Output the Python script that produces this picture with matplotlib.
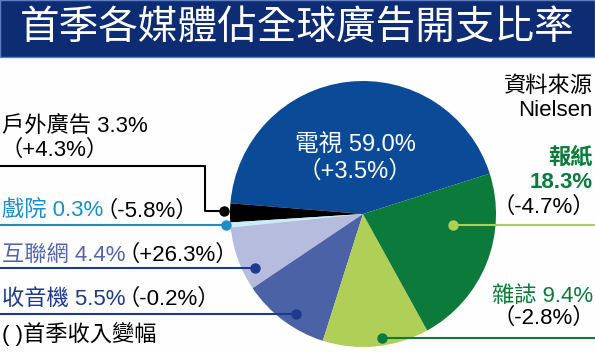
# Share of global ad spending by medium, first quarter (pie with callouts)
import numpy as np
import matplotlib.pyplot as plt

WIDTH, HEIGHT = 595, 352

TITLE = "首季各媒體佔全球廣告開支比率"
SOURCE = ["資料來源", "Nielsen"]
NOTE = "( )首季收入變幅"

# order follows the pie, starting at the TV wedge and going anticlockwise
media = ["電視", "戶外廣告", "戲院", "互聯網", "收音機", "雜誌", "報紙"]
share = [59.0, 3.3, 0.3, 4.4, 5.5, 9.4, 18.3]
change = [3.5, 4.3, -5.8, 26.3, -0.2, -2.8, -4.7]
# wedge sizes as they are drawn in the source graphic (not to scale)
drawn_share = [43.8, 2.3, 0.6, 7.8, 10.7, 12.9, 21.9]
colors = ["#0b4a97", "#000000", "#c8ecf8", "#b6bcdd", "#4c62a6",
          "#afcf57", "#0b7a3a"]

NAVY = "#0d2c73"
GREEN = "#0b7a3a"
FS = 16


def main():
    plt.rcParams["font.family"] = ["Liberation Sans", "Noto Sans CJK TC"]
    fig = plt.figure(figsize=(WIDTH / 100, HEIGHT / 100), dpi=100)
    fig.patch.set_facecolor("#fdfefd")
    ax = fig.add_axes([0, 0, 1, 1])

    wedges = draw_pie(ax)

    ax.set_xlim(0, WIDTH)
    ax.set_ylim(HEIGHT, 0)
    ax.set_aspect("auto")
    ax.axis("off")

    draw_title(ax)
    draw_callouts(ax, wedges)

    fig.savefig("out.png", dpi=100, facecolor=fig.get_facecolor())


def draw_pie(ax):
    # y axis points down, so counterclock=False turns anticlockwise on screen
    wedges, _ = ax.pie(drawn_share, colors=colors, startangle=-17.7,
                       counterclock=False, center=(363, 214), radius=133,
                       wedgeprops=dict(linewidth=0))
    return wedges


def anchor(wedge, frac, rfrac):
    a = np.radians(wedge.theta2 - frac * (wedge.theta2 - wedge.theta1))
    cx, cy = wedge.center
    r = wedge.r * rfrac
    return cx + r * np.cos(a), cy + r * np.sin(a)


def label_parts(i):
    return f"{media[i]} {share[i]:.1f}%", f"（{change[i]:+.1f}%）"


def draw_title(ax):
    ax.add_patch(plt.Rectangle((0, 0), WIDTH, 57, facecolor=NAVY,
                               edgecolor="#5d7fc0", linewidth=1, zorder=1))
    ax.text(WIDTH / 2, 29, TITLE, color="white", fontsize=28.5,
            family="Noto Sans CJK TC", ha="center", va="center", zorder=2)


def dot(ax, x, y, color):
    ax.plot(x, y, "o", ms=6.5, color=color, zorder=5)


def draw_callouts(ax, wedges):
    # TV label inside the wedge
    name, chg = label_parts(0)
    ax.text(355, 146, name, color="white", fontsize=17, ha="center", va="center")
    ax.text(355, 172, chg, color="white", fontsize=17, ha="center", va="center")

    # outdoor: elbow line
    name, chg = label_parts(1)
    x, y = anchor(wedges[1], 0.39, 1.045)
    ax.plot([0, 205, 205, x], [166, 166, y, y], color="black", lw=1.5, zorder=4)
    dot(ax, x, y, "black")
    ax.text(2, 127, name, color="black", fontsize=FS, va="center")
    ax.text(0, 150, chg, color="black", fontsize=FS, va="center")

    # cinema, internet, radio: straight lines to the left edge
    left = [(2, "#1b8dc8", "#1b8dc8", 211, 0.5, 1.03),
            (3, "#5565ad", "#1d3a8e", 255, 0.73, 0.91),
            (4, "#1d3a8e", "#1d3a8e", 299, 0.58, 0.905)]
    for i, tcol, lcol, ty, frac, rfrac in left:
        name, chg = label_parts(i)
        x, y = anchor(wedges[i], frac, rfrac)
        ax.plot([0, x], [y, y], color=lcol, lw=1.5, zorder=4)
        dot(ax, x, y, lcol)
        t = ax.text(2, ty, name, color=tcol, fontsize=FS, va="center")
        # pull the wide full-width bracket in towards the value
        ax.annotate(chg, xy=(1, 0.5), xycoords=t, xytext=(-8, 0),
                    textcoords="offset pixels", va="center", fontsize=FS,
                    color="black")

    ax.text(2, 334, NOTE, color="black", fontsize=FS, va="center")

    # right side: source, newspaper, magazine
    ax.text(593, 86, SOURCE[0], fontsize=FS, ha="right", va="center")
    ax.text(593, 111, SOURCE[1], fontsize=FS, ha="right", va="center")

    x, y = anchor(wedges[6], 0.69, 0.68)
    ax.plot([x, WIDTH], [y, y], color="#afcf57", lw=1.5, zorder=4)
    dot(ax, x, y, "#afcf57")
    ax.text(593, 158, media[6], color=GREEN, fontsize=FS, fontweight="bold",
            ha="right", va="center")
    ax.text(593, 183, f"{share[6]:.1f}%", color=GREEN, fontsize=FS,
            fontweight="bold", ha="right", va="center")
    ax.text(595, 207, label_parts(6)[1], color="black", fontsize=FS,
            ha="right", va="center")

    name, chg = label_parts(5)
    x, y = anchor(wedges[5], 0.57, 0.94)
    ax.plot([x, WIDTH], [y, y], color=GREEN, lw=1.5, zorder=4)
    dot(ax, x, y, GREEN)
    ax.text(593, 296, name, color=GREEN, fontsize=FS, ha="right", va="center")
    ax.text(595, 318, chg, color="black", fontsize=FS, ha="right", va="center")


if __name__ == "__main__":
    main()
